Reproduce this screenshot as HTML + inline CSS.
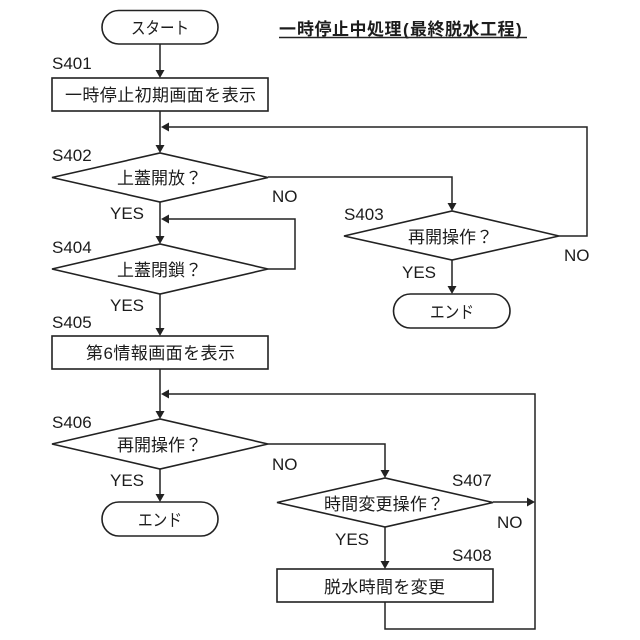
<!DOCTYPE html>
<html lang="ja">
<head>
<meta charset="utf-8">
<title>一時停止中処理</title>
<style>
html,body{margin:0;padding:0;background:#fff;width:640px;height:640px;overflow:hidden}
svg{display:block}
text{font-family:"Liberation Sans","Noto Sans CJK JP",sans-serif;font-size:17px;fill:#1c1c1c}
.l{font-size:17px}
.s{fill:none;stroke:#222;stroke-width:1.5}
.b{fill:#fff;stroke:#222;stroke-width:1.6}
.a{fill:#222;stroke:none}
</style>
</head>
<body>
<svg width="640" height="640" viewBox="0 0 640 640" xmlns="http://www.w3.org/2000/svg">
<!-- connectors -->
<path class="s" d="M160 44V72M160 111V147M160 202V238M160 294V330M160 369V413M160 469V496"/>
<path class="s" d="M268 177H452V205M452 260V288"/>
<path class="s" d="M559 236H587V127H168"/>
<path class="s" d="M268 269H295V219H168"/>
<path class="s" d="M268 444H385V472M385 527V563"/>
<path class="s" d="M493 502H529"/>
<path class="s" d="M385 602V629H535V394H168"/>
<!-- arrowheads -->
<path class="a" d="M155.500 70H164.500L160 78Z"/>
<path class="a" d="M155.500 145H164.500L160 153Z"/>
<path class="a" d="M155.500 236H164.500L160 244Z"/>
<path class="a" d="M155.500 328H164.500L160 336Z"/>
<path class="a" d="M155.500 411H164.500L160 419Z"/>
<path class="a" d="M155.500 494H164.500L160 502Z"/>
<path class="a" d="M447.500 203H456.500L452 211Z"/>
<path class="a" d="M447.500 286H456.500L452 294Z"/>
<path class="a" d="M380.500 470H389.500L385 478Z"/>
<path class="a" d="M380.500 561H389.500L385 569Z"/>
<path class="a" d="M161 127L169 122.500V131.500Z"/>
<path class="a" d="M161 219L169 214.500V223.500Z"/>
<path class="a" d="M161 394L169 389.500V398.500Z"/>
<path class="a" d="M535 502L527 497.500V506.500Z"/>
<!-- nodes -->
<rect class="b" x="102" y="10.5" width="116" height="33.5" rx="16.7"/>
<rect class="b" x="52" y="78" width="216" height="33"/>
<path class="b" d="M52 177.500L160 153L268 177.500L160 202Z"/>
<path class="b" d="M52 269L160 244L268 269L160 294Z"/>
<path class="b" d="M344 236L452 211L559 236L452 260Z"/>
<rect class="b" x="393.500" y="294" width="116.500" height="34" rx="17"/>
<rect class="b" x="52" y="336" width="216" height="33"/>
<path class="b" d="M52 444L160 419L268 444L160 469Z"/>
<rect class="b" x="102" y="502" width="116" height="34" rx="17"/>
<path class="b" d="M277 502.500L385 478L493 502.500L385 527Z"/>
<rect class="b" x="277" y="569" width="216" height="33"/>
<!-- node text -->
<text x="131" y="34" textLength="58" lengthAdjust="spacingAndGlyphs">スタート</text>
<text x="65" y="101" textLength="191" lengthAdjust="spacing">一時停止初期画面を表示</text>
<text x="117" y="184" textLength="85" lengthAdjust="spacing">上蓋開放？</text>
<text x="117" y="276" textLength="85" lengthAdjust="spacing">上蓋閉鎖？</text>
<text x="408" y="243" textLength="85" lengthAdjust="spacing">再開操作？</text>
<text x="430" y="318" textLength="44" lengthAdjust="spacingAndGlyphs" style="font-size:17px">エンド</text>
<text x="86" y="359" textLength="149" lengthAdjust="spacing">第6情報画面を表示</text>
<text x="117" y="451" textLength="85" lengthAdjust="spacing">再開操作？</text>
<text x="138" y="526" textLength="44" lengthAdjust="spacingAndGlyphs" style="font-size:17px">エンド</text>
<text x="324" y="510" textLength="120" lengthAdjust="spacing">時間変更操作？</text>
<text x="324" y="593" textLength="121" lengthAdjust="spacing">脱水時間を変更</text>
<!-- title -->
<text x="279 297 314.500 332 349.500 367 384.500 403 410 427.500 445 462.500 480 497.500 516" y="35" style="font-size:17px;font-weight:bold">一時停止中処理(最終脱水工程)</text>
<path d="M279 37.500H527" stroke="#222" stroke-width="1.600" fill="none"/>
<!-- step labels -->
<text class="l" x="52" y="69">S401</text>
<text class="l" x="52" y="161">S402</text>
<text class="l" x="344" y="220">S403</text>
<text class="l" x="52" y="253">S404</text>
<text class="l" x="52" y="328">S405</text>
<text class="l" x="52" y="428">S406</text>
<text class="l" x="452" y="486">S407</text>
<text class="l" x="452" y="561">S408</text>
<!-- branch labels -->
<text class="l" x="110" y="219">YES</text>
<text class="l" x="110" y="311">YES</text>
<text class="l" x="402" y="278">YES</text>
<text class="l" x="110" y="486">YES</text>
<text class="l" x="335" y="545">YES</text>
<text class="l" x="272" y="202">NO</text>
<text class="l" x="564" y="261">NO</text>
<text class="l" x="272" y="470">NO</text>
<text class="l" x="497" y="528">NO</text>
</svg>
</body>
</html>
